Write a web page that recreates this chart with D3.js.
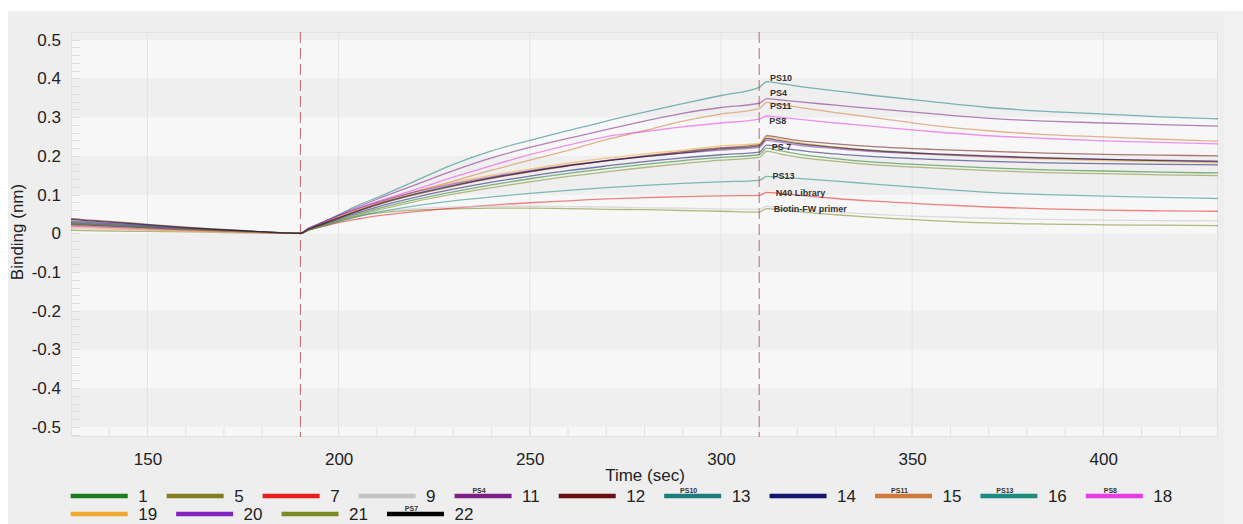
<!DOCTYPE html>
<html>
<head>
<meta charset="utf-8">
<script src="https://cdn.jsdelivr.net/npm/d3@7"></script>
<style>
  html, body { margin: 0; padding: 0; background: #ffffff; }
  svg { display: block; font-family: "Liberation Sans", Arial, sans-serif; }
</style>
</head>
<body>
<svg id="chart" width="1243" height="524"></svg>
<script>
// Sample times (sec): baseline, association (190-310), dissociation (310-430)
const times = [130,134,140,150,160,170,180,190,
  192,195,200,205,210,220,230,240,250,260,270,280,290,300,310,
  312,315,320,330,340,355,370,385,400,415,430];

// Binding response (nm) for each sensor, one value per sample time
const s1  = [0.024,0.022,0.020,0.015,0.010,0.006,0.003,0,
  0.008,0.018,0.034,0.049,0.063,0.087,0.107,0.125,0.141,0.155,0.167,0.178,0.188,0.196,0.203,
  0.220,0.214,0.205,0.193,0.184,0.176,0.169,0.164,0.161,0.158,0.156];
const s5  = [0.008,0.007,0.006,0.005,0.004,0.002,0.001,0,
  0.008,0.018,0.032,0.044,0.052,0.060,0.063,0.065,0.065,0.064,0.062,0.061,0.059,0.057,0.055,
  0.064,0.061,0.056,0.048,0.041,0.033,0.027,0.024,0.022,0.021,0.020];
const s7  = [0.028,0.026,0.023,0.017,0.012,0.007,0.003,0,
  0.008,0.016,0.028,0.037,0.045,0.056,0.065,0.073,0.079,0.084,0.089,0.092,0.095,0.097,0.098,
  0.106,0.104,0.099,0.090,0.083,0.075,0.068,0.063,0.060,0.058,0.057];
const s9  = [0.012,0.011,0.010,0.008,0.005,0.003,0.001,0,
  0.008,0.018,0.033,0.046,0.055,0.064,0.068,0.070,0.070,0.069,0.068,0.066,0.065,0.063,0.062,
  0.070,0.067,0.062,0.055,0.049,0.043,0.039,0.036,0.034,0.033,0.032];
const s11 = [0.026,0.024,0.021,0.016,0.011,0.007,0.003,0,
  0.012,0.025,0.047,0.068,0.088,0.125,0.162,0.195,0.222,0.245,0.268,0.290,0.310,0.325,0.336,
  0.348,0.345,0.340,0.331,0.322,0.309,0.297,0.290,0.285,0.281,0.277];
const s12 = [0.038,0.035,0.031,0.023,0.016,0.010,0.004,0,
  0.010,0.021,0.040,0.057,0.073,0.100,0.122,0.142,0.159,0.174,0.188,0.200,0.211,0.221,0.229,
  0.252,0.248,0.240,0.231,0.224,0.217,0.212,0.207,0.204,0.202,0.200];
const s13 = [0.030,0.028,0.025,0.019,0.013,0.008,0.004,0,
  0.012,0.025,0.048,0.072,0.092,0.135,0.178,0.213,0.240,0.265,0.290,0.313,0.335,0.356,0.377,
  0.392,0.388,0.380,0.368,0.356,0.340,0.325,0.315,0.308,0.301,0.296];
const s14 = [0.022,0.021,0.018,0.014,0.009,0.006,0.003,0,
  0.009,0.020,0.037,0.053,0.068,0.093,0.114,0.132,0.148,0.162,0.174,0.185,0.195,0.203,0.210,
  0.228,0.223,0.215,0.205,0.198,0.191,0.186,0.182,0.180,0.178,0.177];
const s15 = [0.020,0.019,0.016,0.012,0.008,0.005,0.002,0,
  0.010,0.022,0.042,0.060,0.077,0.107,0.135,0.163,0.189,0.214,0.242,0.265,0.290,0.308,0.322,
  0.338,0.334,0.326,0.312,0.299,0.279,0.265,0.255,0.249,0.243,0.238];
const s16 = [0.027,0.025,0.022,0.017,0.011,0.007,0.003,0,
  0.007,0.016,0.030,0.043,0.054,0.071,0.084,0.094,0.103,0.111,0.118,0.124,0.129,0.133,0.137,
  0.147,0.145,0.142,0.135,0.127,0.116,0.106,0.100,0.096,0.093,0.090];
const s18 = [0.018,0.017,0.015,0.011,0.008,0.005,0.002,0,
  0.011,0.024,0.045,0.064,0.082,0.113,0.145,0.175,0.203,0.228,0.250,0.263,0.275,0.285,0.295,
  0.303,0.300,0.295,0.285,0.276,0.263,0.252,0.245,0.239,0.235,0.231];
const s19 = [0.015,0.014,0.012,0.009,0.006,0.004,0.002,0,
  0.011,0.024,0.044,0.062,0.079,0.108,0.131,0.150,0.166,0.181,0.194,0.205,0.215,0.226,0.232,
  0.250,0.244,0.235,0.223,0.213,0.204,0.197,0.192,0.188,0.185,0.182];
const s20 = [0.032,0.030,0.026,0.020,0.013,0.008,0.004,0,
  0.012,0.025,0.046,0.064,0.080,0.107,0.128,0.146,0.162,0.176,0.188,0.198,0.207,0.215,0.222,
  0.240,0.236,0.228,0.219,0.211,0.204,0.198,0.194,0.191,0.189,0.187];
const s21 = [0.025,0.023,0.021,0.015,0.010,0.006,0.003,0,
  0.008,0.017,0.032,0.046,0.059,0.082,0.101,0.118,0.133,0.147,0.159,0.170,0.180,0.189,0.196,
  0.212,0.206,0.197,0.186,0.177,0.169,0.162,0.157,0.154,0.151,0.149];
const s22 = [0.036,0.033,0.029,0.022,0.015,0.009,0.004,0,
  0.010,0.022,0.040,0.058,0.075,0.102,0.124,0.143,0.160,0.175,0.187,0.198,0.208,0.218,0.226,
  0.245,0.240,0.232,0.222,0.214,0.206,0.200,0.195,0.191,0.188,0.185];

const seriesNames  = ["1","5","7","9","11","12","13","14","15","16","18","19","20","21","22"];
const seriesValues = [s1,s5,s7,s9,s11,s12,s13,s14,s15,s16,s18,s19,s20,s21,s22];
const seriesColors = ["#1e7b1e","#808020","#e8201f","#c4c4c4","#7b2181","#6a0f0f","#1d7e7e",
  "#13136b","#d07a3a","#1f8c82","#e63ee6","#f0a830","#8224c0","#7b8a22","#000000"];
const legendTags = {"11":"PS4","13":"PS10","15":"PS11","16":"PS13","18":"PS8","22":"PS7"};
const legendRows = [["1","5","7","9","11","12","13","14","15","16","18"],["19","20","21","22"]];

// Curve annotations placed just after the dissociation step
const noteTexts  = ["PS10","PS4","PS11","PS8","PS 7","PS13","N40 Library","Biotin-FW primer"];
const noteValues = [0.401,0.362,0.328,0.291,0.223,0.149,0.104,0.0625];
const noteTimes  = [312.8,312.8,312.8,312.6,313.3,313.5,314.3,313.8];

const stepTimes  = [190, 310];
const xTicks = [150,200,250,300,350,400];
const yTicks = [0.5,0.4,0.3,0.2,0.1,0,-0.1,-0.2,-0.3,-0.4,-0.5];

const svg = d3.select("#chart");
const plotL = 71, plotR = 1218, plotT = 32, plotB = 437;

const x = d3.scaleLinear().domain([130, 430]).range([plotL, plotR]);
const y = d3.scaleLinear().domain([-0.526, 0.52]).range([plotB, plotT]);

// outer panel
svg.append("rect").attr("x", 8).attr("y", 11).attr("width", 1235).attr("height", 513).attr("fill", "#eeeeee");
svg.append("rect").attr("x", 1224).attr("y", 11).attr("width", 19).attr("height", 513).attr("fill", "#f2f2f2");

// alternating horizontal bands
const bands = d3.range(-6, 6).map(k => ({k, lo: Math.max(k / 10, -0.526), hi: Math.min((k + 1) / 10, 0.52)}));
svg.append("g").selectAll("rect").data(bands).join("rect")
  .attr("x", plotL).attr("width", plotR - plotL)
  .attr("y", d => y(d.hi)).attr("height", d => y(d.lo) - y(d.hi))
  .attr("fill", d => (d.k % 2 === 0) ? "#f7f7f7" : "#efefef");

// vertical grid at major time ticks
svg.append("g").selectAll("line").data(xTicks).join("line")
  .attr("x1", d => x(d)).attr("x2", d => x(d)).attr("y1", plotT).attr("y2", plotB)
  .attr("stroke", "#e4e4e4").attr("stroke-width", 1);

// minor ticks: y every 0.02 at left edge, x every 10 s at bottom
svg.append("g").selectAll("line").data(d3.range(-26, 27).map(i => i * 0.02)).join("line")
  .attr("x1", plotL).attr("x2", plotL + 9)
  .attr("y1", d => Math.round(y(d)) + 0.5).attr("y2", d => Math.round(y(d)) + 0.5)
  .attr("stroke", "#dcdcdc").attr("stroke-width", 1);
svg.append("g").selectAll("line").data(d3.range(140, 430, 10)).join("line")
  .attr("x1", d => x(d)).attr("x2", d => x(d)).attr("y1", plotB - 10).attr("y2", plotB)
  .attr("stroke", "#e2e2e2").attr("stroke-width", 1);

// plot frame
svg.append("rect").attr("x", plotL + 0.5).attr("y", plotT + 0.5)
  .attr("width", plotR - plotL - 1).attr("height", plotB - plotT - 1)
  .attr("fill", "none").attr("stroke", "#e2e2e2");

// step markers
svg.append("g").selectAll("line").data(stepTimes).join("line")
  .attr("x1", d => x(d)).attr("x2", d => x(d)).attr("y1", plotT).attr("y2", plotB)
  .attr("stroke", "#c86464").attr("stroke-width", 1).attr("stroke-dasharray", "11,5");

// sensor curves
const line = d3.line().x(d => x(d[0])).y(d => y(d[1])).curve(d3.curveMonotoneX);
svg.append("g").selectAll("path").data(seriesValues).join("path")
  .attr("d", v => line(d3.zip(times, v)))
  .attr("fill", "none")
  .attr("stroke", (v, i) => seriesColors[i])
  .attr("stroke-width", 1.3)
  .attr("stroke-opacity", 0.55);

// curve annotations
svg.append("g").selectAll("text").data(noteTexts).join("text")
  .attr("x", (d, i) => x(noteTimes[i]))
  .attr("y", (d, i) => y(noteValues[i]))
  .attr("dy", "0.35em")
  .attr("font-size", 9).attr("font-weight", "bold").attr("fill", "#333333")
  .text(d => d);

// axes
const yAxis = d3.axisLeft(y).tickValues(yTicks).tickSize(0).tickPadding(10)
  .tickFormat(v => v === 0 ? "0" : v.toFixed(1));
const gy = svg.append("g").attr("transform", `translate(${plotL},0)`).call(yAxis);
gy.select(".domain").remove();
gy.selectAll("text").attr("font-size", 17).attr("fill", "#222").attr("font-family", "Liberation Sans, Arial, sans-serif");

const xAxis = d3.axisBottom(x).tickValues(xTicks).tickSize(0).tickPadding(16).tickFormat(d3.format("d"));
const gx = svg.append("g").attr("transform", `translate(0,${plotB})`).call(xAxis);
gx.select(".domain").remove();
gx.selectAll("text").attr("font-size", 17).attr("fill", "#222").attr("font-family", "Liberation Sans, Arial, sans-serif");

svg.append("text").attr("x", 645).attr("y", 481).attr("text-anchor", "middle")
  .attr("font-size", 17).attr("fill", "#222").text("Time (sec)");
svg.append("text").attr("transform", "translate(23,232) rotate(-90)").attr("text-anchor", "middle")
  .attr("font-size", 17).attr("fill", "#222").text("Binding (nm)");

// legend
const rowY = [496, 514];
const swatchW = 57;
legendRows.forEach((row, r) => {
  let cx = 70.7;
  row.forEach(name => {
    const i = seriesNames.indexOf(name);
    const g = svg.append("g");
    g.append("line").attr("x1", cx).attr("x2", cx + swatchW).attr("y1", rowY[r]).attr("y2", rowY[r])
      .attr("stroke", seriesColors[i]).attr("stroke-width", 4.5);
    if (legendTags[name]) {
      g.append("text").attr("x", cx + swatchW / 2 - 4).attr("y", rowY[r] - 3.5).attr("text-anchor", "middle")
        .attr("font-size", 7).attr("font-weight", "bold").attr("fill", "#333").text(legendTags[name]);
    }
    const t = g.append("text").attr("x", cx + swatchW + 10.5).attr("y", rowY[r] + 6)
      .attr("font-size", 17).attr("fill", "#222").text(name);
    cx += swatchW + 10.5 + t.node().getComputedTextLength() + 19;
  });
});
</script>
</body>
</html>
